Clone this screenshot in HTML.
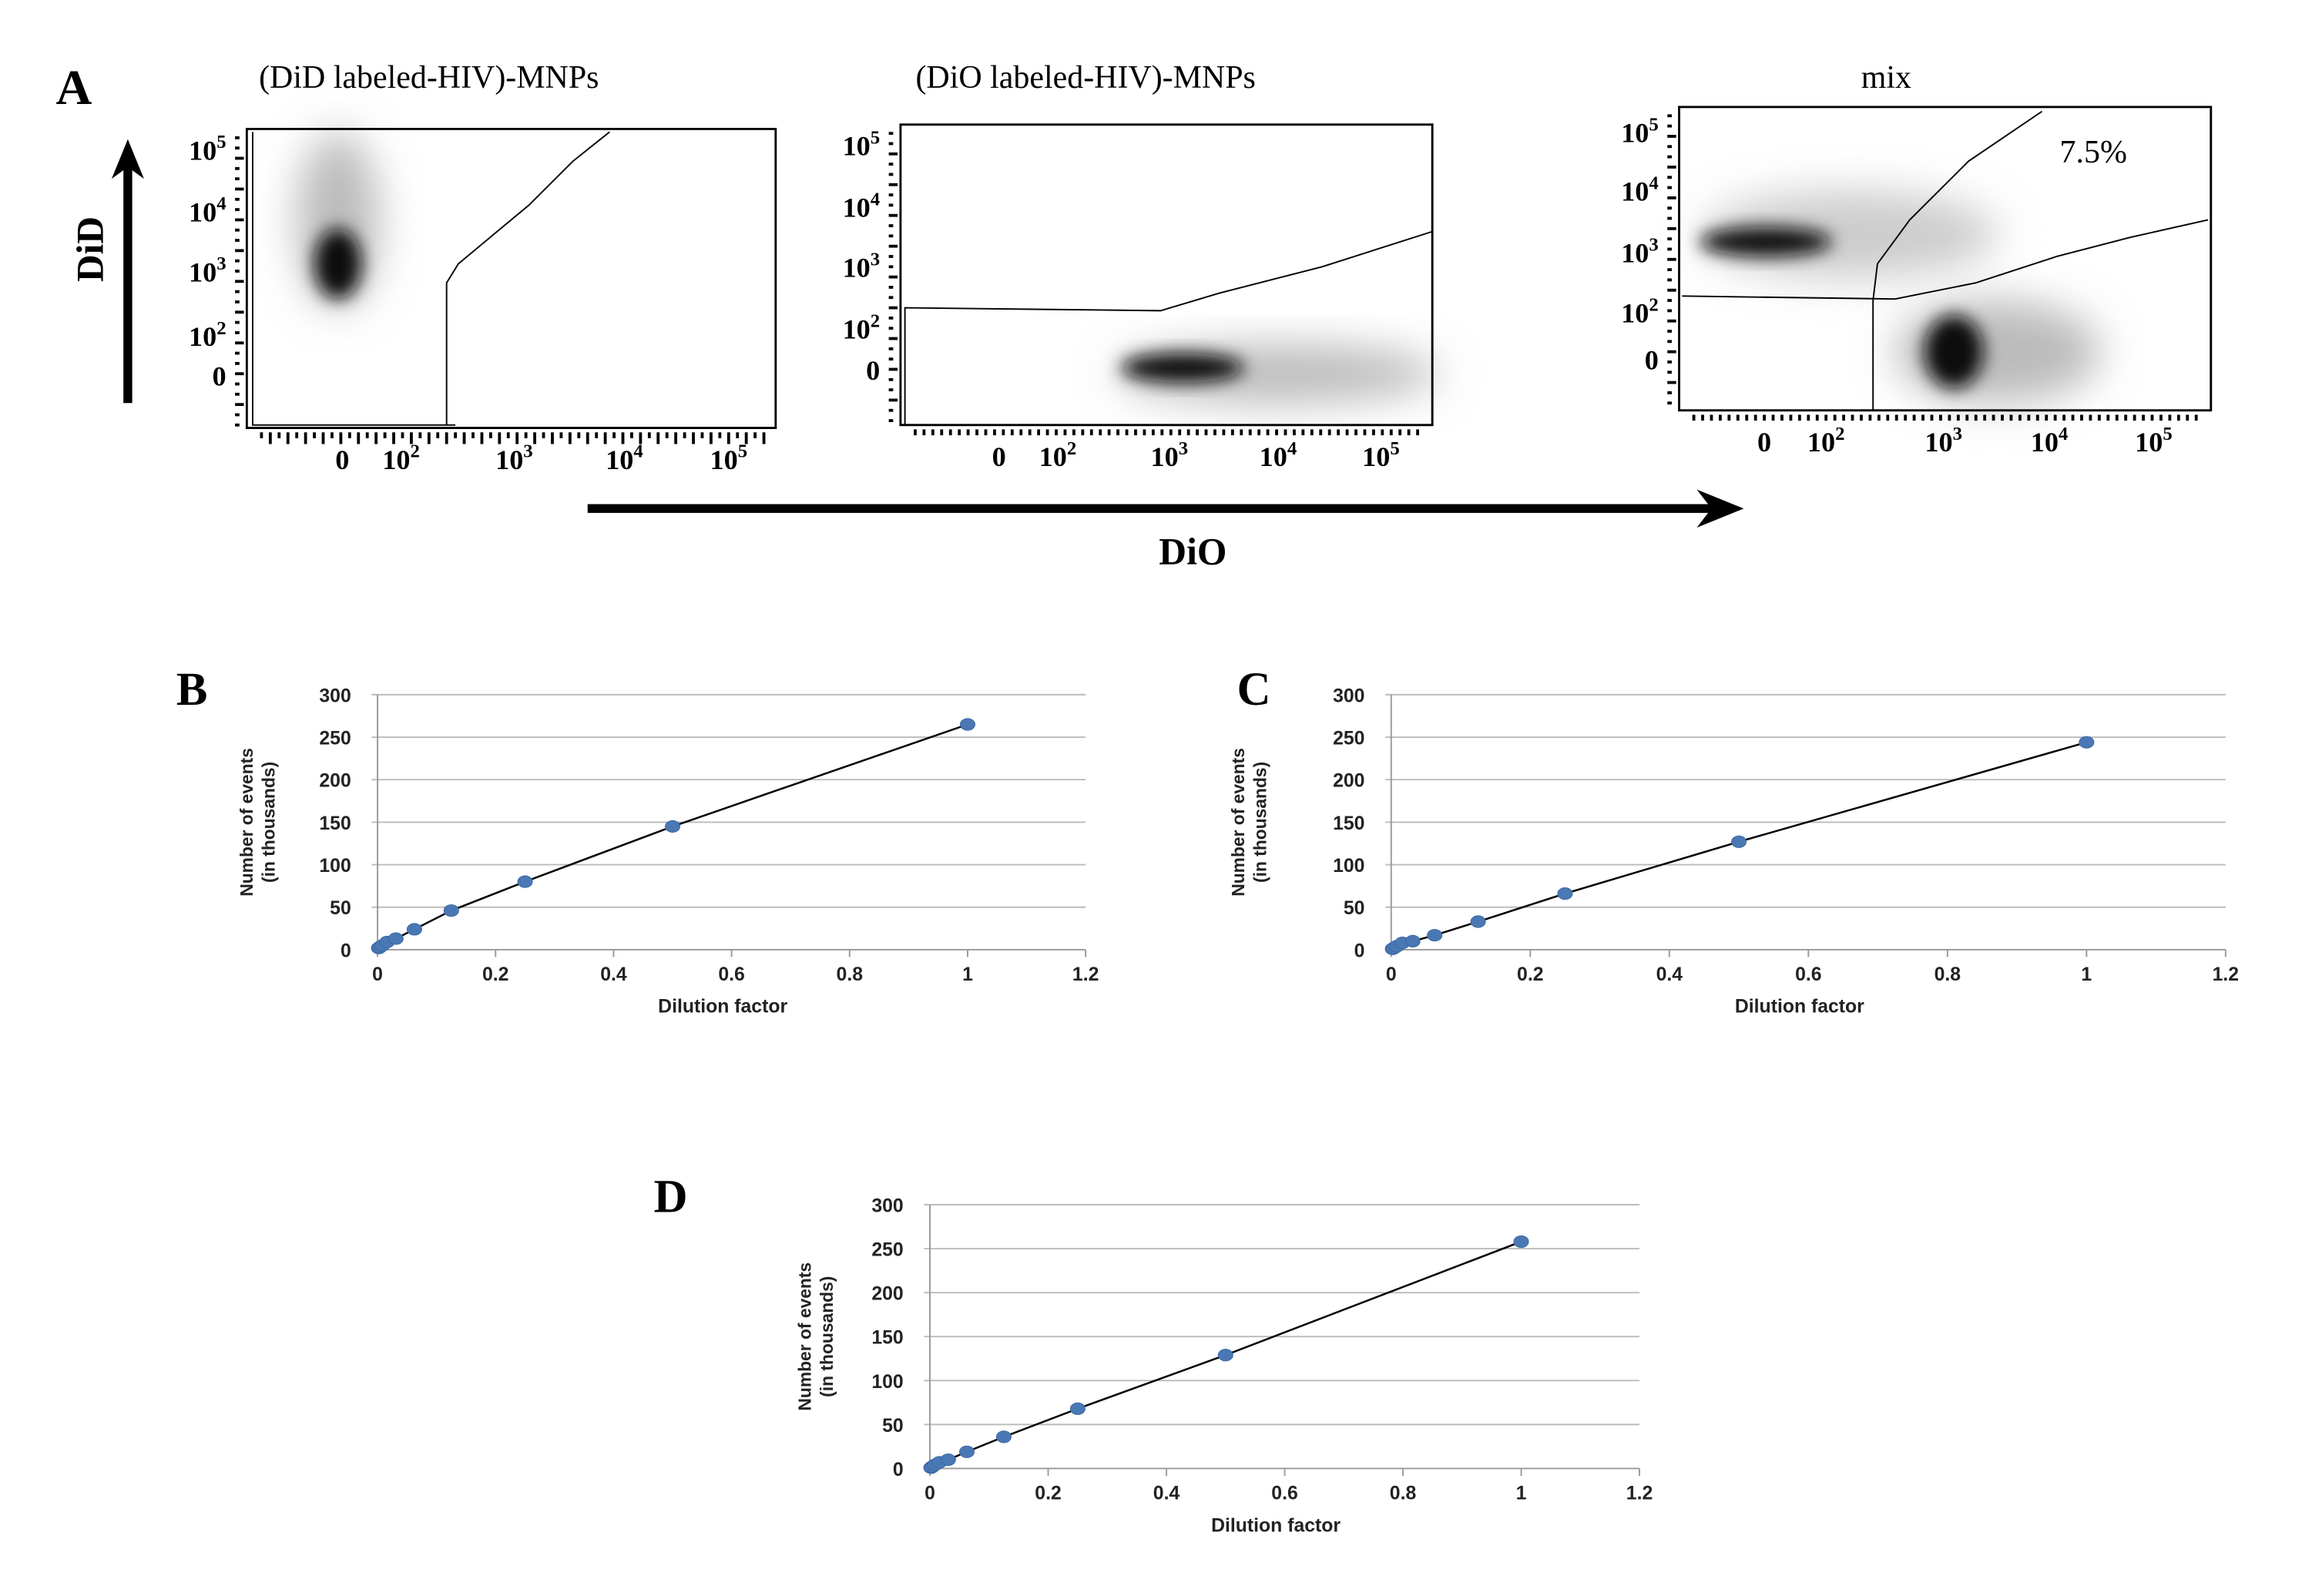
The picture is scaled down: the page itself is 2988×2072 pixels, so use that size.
<!DOCTYPE html>
<html><head><meta charset="utf-8"><style>
html,body{margin:0;padding:0;background:#fff;}
svg{display:block;}
</style></head><body>
<svg id="fig" width="2988" height="2072" viewBox="0 0 1567 1089" preserveAspectRatio="none" xmlns="http://www.w3.org/2000/svg">
<defs>
<filter id="b1" x="-50%" y="-50%" width="200%" height="200%"><feGaussianBlur stdDeviation="6"/></filter>
<filter id="b2" x="-50%" y="-50%" width="200%" height="200%"><feGaussianBlur stdDeviation="14"/></filter>
</defs>
<g id="panelA"></g>
<g id="charts"></g>
</svg>
<script>
// ---- chart data ----
const dilutionX = [0.002, 0.004, 0.008, 0.016, 0.031, 0.0625, 0.125, 0.25, 0.5, 1];
const eventsB = [2, 3, 5, 9, 13, 24, 46, 80, 145, 265];
const eventsC = [1, 2, 4, 8, 10, 17, 33, 66, 127, 244];
const eventsD = [1, 2, 4, 7, 10, 19, 36, 68, 129, 258];
const yTicks = [0, 50, 100, 150, 200, 250, 300];
const xTicks = [0, 0.2, 0.4, 0.6, 0.8, 1, 1.2];
const xTickLabels = ["0", "0.2", "0.4", "0.6", "0.8", "1", "1.2"];

const NS = "http://www.w3.org/2000/svg";
function mk(tag, attrs, parent, text) {
  const e = document.createElementNS(NS, tag);
  for (const k in attrs) e.setAttribute(k, attrs[k]);
  if (text !== undefined) e.textContent = text;
  parent.appendChild(e);
  return e;
}
const A = document.getElementById('panelA');
const C = document.getElementById('charts');

// ---- Panel A ----
let t = mk('text', {x: 38, y: 71, 'font-family': 'Liberation Serif, serif', 'font-weight': 'bold', 'font-size': 34}, A, 'A');



const flows = [
  {title: '(DiD labeled-HIV)-MNPs', tx: 292, ty: 60, x0: 168, x1: 528, y0: 88, y1: 292,
   yl: [[103, '10', '5'], [145, '10', '4'], [186, '10', '3'], [230, '10', '2'], [257, '0', '']],
   xl: [[233, '0', ''], [273, '10', '2'], [350, '10', '3'], [425, '10', '4'], [496, '10', '5']], xly: 320},
  {title: '(DiO labeled-HIV)-MNPs', tx: 739, ty: 60, x0: 613, x1: 975, y0: 85, y1: 290,
   yl: [[100, '10', '5'], [142, '10', '4'], [183, '10', '3'], [225, '10', '2'], [253, '0', '']],
   xl: [[680, '0', ''], [720, '10', '2'], [796, '10', '3'], [870, '10', '4'], [940, '10', '5']], xly: 318},
  {title: 'mix', tx: 1284, ty: 60, x0: 1143, x1: 1505, y0: 73, y1: 280,
   yl: [[91, '10', '5'], [131, '10', '4'], [173, '10', '3'], [214, '10', '2'], [246, '0', '']],
   xl: [[1201, '0', ''], [1243, '10', '2'], [1323, '10', '3'], [1395, '10', '4'], [1466, '10', '5']], xly: 308}
];
flows.forEach((f, i) => {
  const g = mk('g', {}, A);
  
  
  const tt = mk('text', {x: f.tx, y: f.ty, 'text-anchor': 'middle', 'font-family': 'Liberation Serif, serif', 'font-size': 22}, g, f.title);
  
  
  const bl = mk('g', {}, g);
  
  
  if (i === 0) {
    mk('ellipse', {cx: 230, cy: 150, rx: 28, ry: 60, fill: '#bbb', filter: 'url(#b2)'}, bl);
    mk('ellipse', {cx: 230, cy: 180, rx: 16, ry: 24, fill: '#111', filter: 'url(#b1)'}, bl);
  } else if (i === 1) {
    mk('ellipse', {cx: 870, cy: 255, rx: 110, ry: 20, fill: '#bbb', filter: 'url(#b2)'}, bl);
    mk('ellipse', {cx: 805, cy: 251, rx: 42, ry: 10, fill: '#111', filter: 'url(#b1)'}, bl);
  } else {
    mk('ellipse', {cx: 1260, cy: 160, rx: 100, ry: 30, fill: '#ccc', filter: 'url(#b2)'}, bl);
    mk('ellipse', {cx: 1202, cy: 165, rx: 45, ry: 10, fill: '#111', filter: 'url(#b1)'}, bl);
    mk('ellipse', {cx: 1360, cy: 240, rx: 70, ry: 35, fill: '#bbb', filter: 'url(#b2)'}, bl);
    mk('ellipse', {cx: 1330, cy: 240, rx: 20, ry: 25, fill: '#111', filter: 'url(#b1)'}, bl);
  }
  const box = mk('rect', {x: f.x0, y: f.y0, width: f.x1 - f.x0, height: f.y1 - f.y0, fill: 'none', stroke: '#000', 'stroke-width': 1.5}, g);
  
  
  const tk = mk('g', {stroke: '#000', 'stroke-width': 2}, g);
  
  
  for (let y = f.y0 + 6; y < f.y1; y += 7) {
    mk('line', {x1: f.x0 - 8, y1: y, x2: f.x0 - ((y % 3 === 0) ? 2 : 5), y2: y}, tk);
  }
  for (let x = f.x0 + 10; x < f.x1 - 5; x += 6) {
    mk('line', {x1: x, y1: f.y1 + 3, x2: x, y2: f.y1 + ((x % 4 === 0) ? 11 : 7)}, tk);
  }
  f.yl.forEach(l => {
    const tx = mk('text', {x: f.x0 - 14, y: l[0] + 6, 'text-anchor': 'end', 'font-family': 'Liberation Serif, serif', 'font-weight': 'bold', 'font-size': 19}, g);
    
    
    mk('tspan', {}, tx, l[1]);
    if (l[2]) mk('tspan', {dy: -8, 'font-size': 13}, tx, l[2]);
  });
  f.xl.forEach(l => {
    const tx = mk('text', {x: l[0], y: f.xly, 'text-anchor': 'middle', 'font-family': 'Liberation Serif, serif', 'font-weight': 'bold', 'font-size': 19}, g);
    
    
    mk('tspan', {}, tx, l[1]);
    if (l[2]) mk('tspan', {dy: -8, 'font-size': 13}, tx, l[2]);
  });
});
const gates = [
  '172,90 172,290 310,290', '304,290 304,193 312,180 330,165 360,140 390,110 415,90',
  '616,290 616,210 790,212 830,200 900,182 975,158',
  '1275,280 1275,205 1278,180 1300,150 1340,110 1390,76',
  '1145,202 1290,204 1345,193 1400,175 1450,162 1503,150'
];
gates.forEach(p => {
  const gl = mk('polyline', {points: p, fill: 'none', stroke: '#000', 'stroke-width': 1}, A);
  
  
});
t = mk('text', {x: 1425, y: 111, 'text-anchor': 'middle', 'font-family': 'Liberation Serif, serif', 'font-size': 22}, A, '7.5%');


let ar = mk('g', {}, A);


mk('line', {x1: 87, y1: 275, x2: 87, y2: 112, stroke: '#000', 'stroke-width': 6}, ar);
mk('polygon', {points: '87,95 76,122 87,114 98,122', fill: '#000'}, ar);
t = mk('text', {x: 0, y: 0, transform: 'translate(70,170) rotate(-90)', 'text-anchor': 'middle', 'font-family': 'Liberation Serif, serif', 'font-weight': 'bold', 'font-size': 26}, A, 'DiD');


ar = mk('g', {}, A);


mk('line', {x1: 400, y1: 347, x2: 1165, y2: 347, stroke: '#000', 'stroke-width': 6}, ar);
mk('polygon', {points: '1187,347 1155,334 1165,347 1155,360', fill: '#000'}, ar);
t = mk('text', {x: 812, y: 385, 'text-anchor': 'middle', 'font-family': 'Liberation Serif, serif', 'font-weight': 'bold', 'font-size': 26}, A, 'DiO');



// ---- Charts B, C, D ----
const charts = [
  {label: 'B', lx: 120, ly: 481, x0: 257, x1: 739, yTop: 474, yBot: 648, vals: eventsB, ytx: 172},
  {label: 'C', lx: 842, ly: 481, x0: 947, x1: 1515, yTop: 474, yBot: 648, vals: eventsC, ytx: 847},
  {label: 'D', lx: 445, ly: 827, x0: 633, x1: 1116, yTop: 822, yBot: 1002, vals: eventsD, ytx: 552}
];
charts.forEach(c => {
  const g = mk('g', {}, C);
  
  
  const sx = v => c.x0 + (v / 1.2) * (c.x1 - c.x0);
  const sy = v => c.yBot - (v / 300) * (c.yBot - c.yTop);
  let tl = mk('text', {x: c.lx, y: c.ly, 'font-family': 'Liberation Serif, serif', 'font-weight': 'bold', 'font-size': 32}, g, c.label);
  
  
  yTicks.forEach(v => {
    const gl = mk('line', {x1: c.x0 - 4, y1: sy(v), x2: c.x1, y2: sy(v), stroke: v === 0 ? '#999' : '#bbb', 'stroke-width': 1}, g);
    
    
    const lb = mk('text', {x: c.x0 - 18, y: sy(v) + 5, 'text-anchor': 'end', 'font-family': 'Liberation Sans, sans-serif', 'font-weight': 'bold', 'font-size': 13, fill: '#222'}, g, String(v));
    
    
  });
  mk('line', {x1: c.x0, y1: c.yTop, x2: c.x0, y2: c.yBot, stroke: '#999', 'stroke-width': 1}, g);
  xTicks.forEach((v, i) => {
    mk('line', {x1: sx(v), y1: c.yBot, x2: sx(v), y2: c.yBot + 5, stroke: '#999'}, g);
    const lb = mk('text', {x: sx(v), y: c.yBot + 21, 'text-anchor': 'middle', 'font-family': 'Liberation Sans, sans-serif', 'font-weight': 'bold', 'font-size': 13, fill: '#222'}, g, xTickLabels[i]);
    
    
  });
  let xt = mk('text', {x: (c.x0 + c.x1) / 2 - 6, y: c.yBot + 43, 'text-anchor': 'middle', 'font-family': 'Liberation Sans, sans-serif', 'font-weight': 'bold', 'font-size': 13, fill: '#222'}, g, 'Dilution factor');
  
  
  const cy = (c.yTop + c.yBot) / 2;
  let yt = mk('text', {transform: 'translate(' + c.ytx + ',' + cy + ') rotate(-90)', 'text-anchor': 'middle', 'font-family': 'Liberation Sans, sans-serif', 'font-weight': 'bold', 'font-size': 12, fill: '#222'}, g);
  
  
  mk('tspan', {x: 0, dy: 0}, yt, 'Number of events');
  mk('tspan', {x: 0, dy: 15}, yt, '(in thousands)');
  const pts = dilutionX.map((x, i) => sx(x) + ',' + sy(c.vals[i])).join(' ');
  const tr = mk('polyline', {points: pts, fill: 'none', stroke: '#000', 'stroke-width': 1.3}, g);
  
  
  dilutionX.forEach((x, i) => {
    const p = mk('ellipse', {cx: sx(x), cy: sy(c.vals[i]), rx: 5, ry: 4, fill: '#4a78b4', stroke: '#3a68a4', 'stroke-width': 0.5}, g);
    
    
  });
});
</script>
</body></html>
